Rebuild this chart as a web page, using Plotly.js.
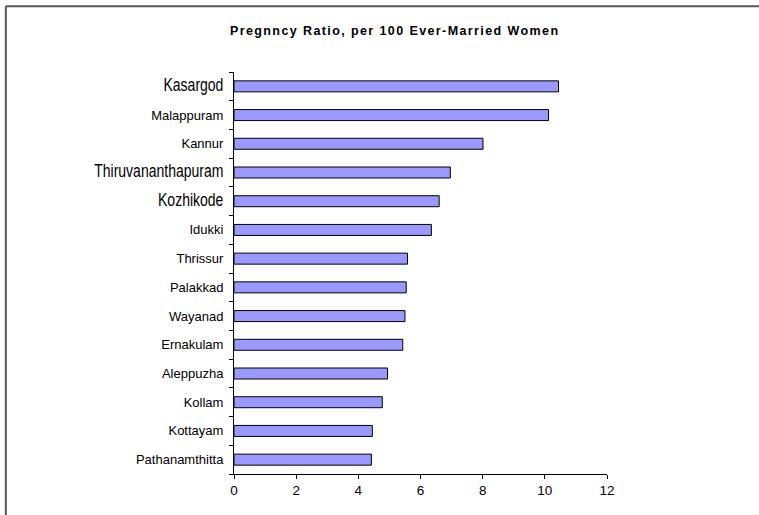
<!DOCTYPE html>
<html>
<head>
<meta charset="utf-8">
<script src="https://cdn.plot.ly/plotly-3.0.1.min.js"></script>
<style>
  html, body { margin: 0; padding: 0; background: #ffffff; overflow: hidden; }
  #chart { width: 759px; height: 515px; }
</style>
</head>
<body>
<div id="chart"></div>
<script>
// Data (top to bottom as shown)
const districts = ["Kasargod", "Malappuram", "Kannur", "Thiruvananthapuram", "Kozhikode", "Idukki",
  "Thrissur", "Palakkad", "Wayanad", "Ernakulam", "Aleppuzha", "Kollam", "Kottayam", "Pathanamthitta"];
const pregnancyRatio = [10.44, 10.12, 8.01, 6.96, 6.60, 6.35, 5.58, 5.54, 5.50, 5.43, 4.94, 4.77, 4.45, 4.42];
const xTickValues = [0, 2, 4, 6, 8, 10, 12];
const chartTitle = "Pregnncy Ratio, per 100 Ever-Married Women";

// Labels drawn in the larger narrow face in the original
const largeLabelNames = new Set(["Kasargod", "Thiruvananthapuram", "Kozhikode"]);
const narrowFactor = 0.8;
const tickText = districts.map(d => largeLabelNames.has(d)
  ? '<span style="font-size:17.5px">' + d + '</span>'
  : d);

const trace = {
  type: "bar",
  orientation: "h",
  x: pregnancyRatio,
  y: districts,
  marker: { color: "#9999FF", line: { color: "#000000", width: 1 } },
  hoverinfo: "x+y"
};

const layout = {
  width: 759,
  height: 515,
  margin: { l: 234, r: 152, t: 72, b: 41, pad: 0 },
  paper_bgcolor: "#ffffff",
  plot_bgcolor: "#ffffff",
  font: { family: "Liberation Sans, Arial, sans-serif", size: 13, color: "#000000" },
  showlegend: false,
  bargap: 0.617,
  title: {
    text: '<span style="letter-spacing:1.4px"><b>' + chartTitle + '</b></span>',
    font: { family: "Liberation Sans, Arial, sans-serif", size: 12.5, color: "#000000" },
    x: 0.52, xref: "container", xanchor: "center",
    y: 0.94, yref: "container", yanchor: "middle"
  },
  xaxis: {
    range: [0, 12],
    tickvals: xTickValues,
    ticktext: xTickValues.map(String),
    showgrid: false,
    zeroline: false,
    showline: true,
    linecolor: "#000000",
    linewidth: 1,
    ticks: "outside",
    ticklen: 4,
    tickcolor: "#000000",
    tickfont: { size: 13.5 },
    fixedrange: true
  },
  yaxis: {
    type: "category",
    range: [13.5, -0.5],
    tickvals: districts,
    ticktext: tickText,
    showgrid: false,
    zeroline: false,
    showline: true,
    linecolor: "#000000",
    linewidth: 1,
    ticks: "outside",
    tickson: "boundaries",
    ticklen: 4,
    tickcolor: "#000000",
    tickfont: { size: 13 },
    ticklabelstandoff: 7,
    fixedrange: true
  },
  shapes: [
    { type: "line", xref: "paper", yref: "paper", x0: -0.6117, x1: 1.5, y0: 1.1634, y1: 1.1634,
      line: { color: "#555555", width: 2 }, layer: "above" },
    { type: "line", xref: "paper", yref: "paper", x0: -0.6117, x1: -0.6117, y0: -0.3, y1: 1.1634,
      line: { color: "#555555", width: 2 }, layer: "above" }
  ]
};

Plotly.newPlot("chart", [trace], layout, { displayModeBar: false, staticPlot: true }).then(gd => {
  // condense the large labels, imitating the narrow face of the original
  gd.querySelectorAll(".ytick text").forEach(t => {
    if (largeLabelNames.has(t.textContent)) {
      const w = t.getComputedTextLength();
      t.setAttribute("textLength", (w * narrowFactor).toFixed(1));
      t.setAttribute("lengthAdjust", "spacingAndGlyphs");
    }
  });
});
</script>
</body>
</html>
